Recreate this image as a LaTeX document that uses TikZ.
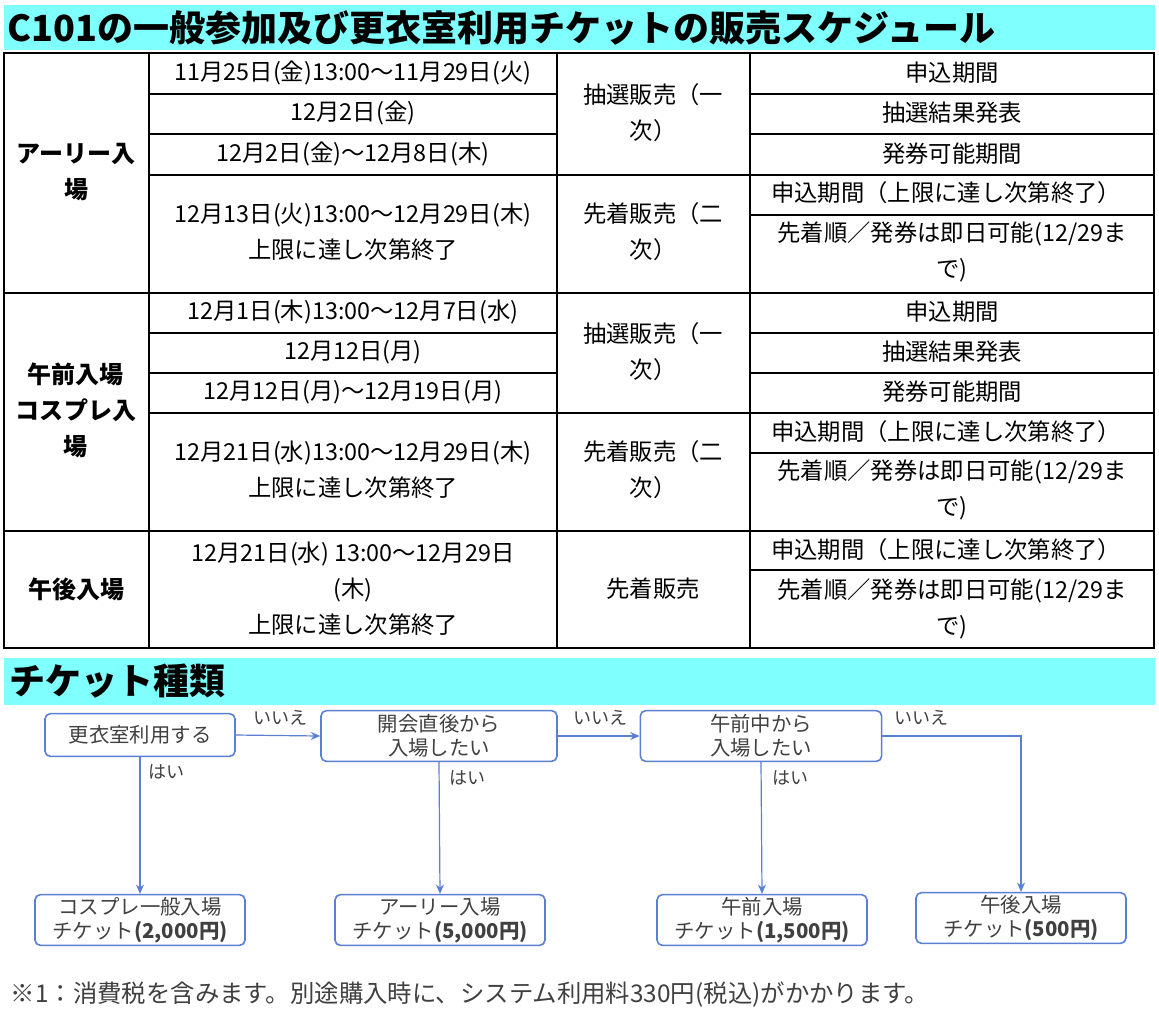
\documentclass[tikz,border=0pt]{standalone}
\usepackage{fontspec}
\setmainfont{Noto Sans CJK JP}
\usetikzlibrary{arrows.meta}
\definecolor{bar}{HTML}{80FFFF}
\definecolor{fb}{HTML}{5B7FD4}
\definecolor{ft}{HTML}{404040}
\tikzset{
 cell/.style={font=\fontsize{17.5}{27}\selectfont,align=center,text=black},
 hd/.style={font=\bfseries\fontsize{18}{27}\selectfont,align=center},
 fbox/.style={draw=fb,line width=1.2pt,rounded corners=4pt,font=\fontsize{15.3}{18}\selectfont,text=ft,align=center,inner sep=0pt},
 conn/.style={draw=fb,line width=0.9pt,-{Stealth[length=7pt,width=6pt]}},
 lab/.style={font=\fontsize{13.5}{15}\selectfont,text=ft}
}
\begin{document}
\begin{tikzpicture}[x=0.75pt,y=-0.75pt]
\useasboundingbox (0,0) rectangle (1159,1026);
\fill[white] (0,0) rectangle (1159,1026);
\fill[bar] (4,5) rectangle (1155,50);
\node[anchor=west,font=\bfseries\fontsize{27}{30}\selectfont] (t1) at (3,28) {C101の一般参加及び更衣室利用チケットの販売スケジュール};
% table grid
\draw[line width=0.8pt] (4,53) rectangle (1154,648);
\foreach \x in {149,557,750} \draw[line width=0.8pt] (\x,53) -- (\x,648);
\foreach \y in {293,531} \draw[line width=0.8pt] (4,\y) -- (1154,\y);
\foreach \y in {94,134,333,373} {\draw[line width=0.8pt] (149,\y) -- (557,\y); \draw[line width=0.8pt] (750,\y) -- (1154,\y);}
\foreach \y in {175,413} \draw[line width=0.8pt] (149,\y) -- (1154,\y);
\foreach \y in {215,453,570} \draw[line width=0.8pt] (750,\y) -- (1154,\y);
% group 1
\node[hd] (g1) at (76,172) {アーリー入\\場};
\node[cell] (a1) at (353,73) {11月25日(金)13:00〜11月29日(火)};
\node[cell] (a2) at (353,113) {12月2日(金)};
\node[cell] (a3) at (353,154) {12月2日(金)〜12月8日(木)};
\node[cell] (a4) at (353,232) {12月13日(火)13:00〜12月29日(木)\\上限に達し次第終了};
\node[cell] (b1) at (653,113) {抽選販売（一\\次）};
\node[cell] (b2) at (653,232) {先着販売（二\\次）};
\node[cell] (c1) at (952,73) {申込期間};
\node[cell] (c2) at (952,113) {抽選結果発表};
\node[cell] (c3) at (952,154) {発券可能期間};
\node[cell] (c4) at (946,193) {申込期間（上限に達し次第終了）};
\node[cell] (c5) at (952,252) {先着順／発券は即日可能(12/29ま\\で)};
% group 2
\node[hd] (g2) at (76,410) {午前入場\\コスプレ入\\場};
\node[cell] (d1) at (353,312) {12月1日(木)13:00〜12月7日(水)};
\node[cell] (d2) at (353,352) {12月12日(月)};
\node[cell] (d3) at (353,392) {12月12日(月)〜12月19日(月)};
\node[cell] (d4) at (353,470) {12月21日(水)13:00〜12月29日(木)\\上限に達し次第終了};
\node[cell] (e1) at (653,352) {抽選販売（一\\次）};
\node[cell] (e2) at (653,470) {先着販売（二\\次）};
\node[cell] (f1) at (952,312) {申込期間};
\node[cell] (f2) at (952,352) {抽選結果発表};
\node[cell] (f3) at (952,392) {発券可能期間};
\node[cell] (f4) at (946,432) {申込期間（上限に達し次第終了）};
\node[cell] (f5) at (952,490) {先着順／発券は即日可能(12/29ま\\で)};
% group 3
\node[hd] (g3) at (76,589) {午後入場};
\node[cell] (h1) at (353,589) {12月21日(水) 13:00〜12月29日\\(木)\\上限に達し次第終了};
\node[cell] (h2) at (653,589) {先着販売};
\node[cell] (h3) at (946,550) {申込期間（上限に達し次第終了）};
\node[cell] (h4) at (952,609) {先着順／発券は即日可能(12/29ま\\で)};
% second bar
\fill[bar] (4,658) rectangle (1155,705);
\node[anchor=west,font=\bfseries\fontsize{27}{30}\selectfont] (t2) at (5,681) {チケット種類};
% flowchart
\node[fbox,minimum width=142.5pt,minimum height=32pt] (q1) at (140,735) {更衣室利用する};
\node[fbox,minimum width=177pt,minimum height=38pt] (q2) at (439,736) {開会直後から\\入場したい};
\node[fbox,minimum width=181pt,minimum height=38pt] (q3) at (761,736) {午前中から\\入場したい};
\node[fbox,minimum width=157.5pt,minimum height=38pt] (r1) at (140,920) {コスプレ一般入場\\チケット\textbf{(2,000円)}};
\node[fbox,minimum width=157.5pt,minimum height=38pt] (r2) at (440,920) {アーリー入場\\チケット\textbf{(5,000円)}};
\node[fbox,minimum width=157.5pt,minimum height=38pt] (r3) at (762,920) {午前入場\\チケット\textbf{(1,500円)}};
\node[fbox,minimum width=157.5pt,minimum height=38pt] (r4) at (1021,918) {午後入場\\チケット\textbf{(500円)}};
\draw[conn] (q1.east) -- (q2.west);
\draw[conn] (q2.east) -- (q3.west);
\draw[conn] (q3.east) -| (r4.north);
\draw[conn] (q1.south) -- (r1.north);
\draw[conn] (q2.south) -- (r2.north);
\draw[conn] (q3.south) -- (r3.north);
\node[lab] (l1) at (280,718) {いいえ};
\node[lab] (l2) at (600,718) {いいえ};
\node[lab] (l3) at (921,718) {いいえ};
\node[lab] (l4) at (166,772) {はい};
\node[lab] (l5) at (467,778) {はい};
\node[lab] (l6) at (790,778) {はい};
\node[anchor=west,font=\fontsize{18.3}{22}\selectfont,text=ft] (fn) at (6,995) {※1：消費税を含みます。別途購入時に、システム利用料330円(税込)がかかります。};
\end{tikzpicture}
\end{document}
